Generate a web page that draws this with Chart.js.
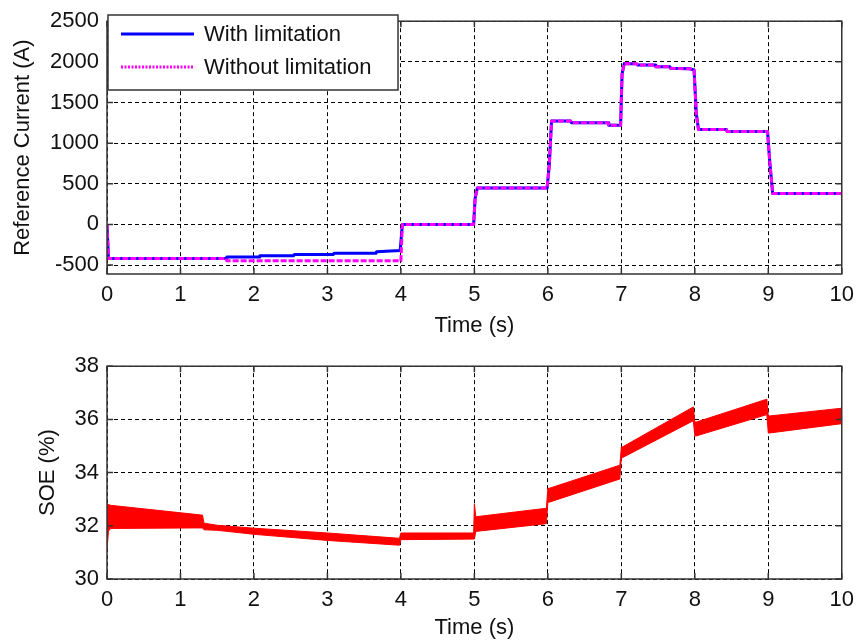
<!DOCTYPE html>
<html>
<head>
<meta charset="utf-8">
<script src="https://cdn.jsdelivr.net/npm/chart.js@4/dist/chart.umd.min.js"></script>
<style>
  body { margin: 0; background: #fff; }
  #wrap { position: relative; width: 862px; height: 643px; }
  canvas { position: absolute; left: 0; }
</style>
</head>
<body>
<div id="wrap">
  <canvas id="topChart" width="862" height="345" style="top:0"></canvas>
  <canvas id="soeChart" width="862" height="298" style="top:345px"></canvas>
</div>
<script>
// axis ticks
const timeTicks = [0, 1, 2, 3, 4, 5, 6, 7, 8, 9, 10];
const currentTicks = [-500, 0, 500, 1000, 1500, 2000, 2500];
const soeTicks = [30, 32, 34, 36, 38];

// reference current, with limitation (A)
const timeWith = [0, 0.02, 1.62, 1.63, 2.07, 2.08, 2.54, 2.55, 3.08, 3.09, 3.66, 3.67, 3.99,
  4.0, 4.02, 4.99, 5.01, 5.04, 5.99, 6.02, 6.05, 6.31, 6.32, 6.82, 6.83, 6.99,
  7.01, 7.04, 7.21, 7.22, 7.46, 7.47, 7.66, 7.67, 7.93, 7.99, 8.02, 8.05, 8.43, 8.44,
  8.99, 9.02, 9.06, 10];
const currentWith = [0, -420, -420, -400, -400, -385, -385, -370, -370, -355, -355, -335, -320,
  -320, 0, 0, 320, 448, 448, 740, 1272, 1272, 1252, 1252, 1220, 1220,
  1850, 1980, 1975, 1960, 1960, 1940, 1940, 1920, 1915, 1900, 1365, 1168, 1168, 1144,
  1144, 770, 380, 380];

// reference current, without limitation (A)
const timeWithout = [0, 0.02, 1.62, 1.63, 3.99,
  4.0, 4.02, 4.99, 5.01, 5.04, 5.99, 6.02, 6.05, 6.31, 6.32, 6.82, 6.83, 6.99,
  7.01, 7.04, 7.21, 7.22, 7.46, 7.47, 7.66, 7.67, 7.93, 7.99, 8.02, 8.05, 8.43, 8.44,
  8.99, 9.02, 9.06, 10];
const currentWithout = [0, -420, -420, -448, -448,
  -448, 0, 0, 320, 448, 448, 740, 1272, 1272, 1252, 1252, 1220, 1220,
  1850, 1980, 1975, 1960, 1960, 1940, 1940, 1920, 1915, 1900, 1365, 1168, 1168, 1144,
  1144, 770, 380, 380];

// SOE envelope (%)
const soeTime = [0, 0.02, 0.05, 1.2, 1.3, 1.32, 1.5, 2, 3, 3.98, 4.0, 4.02, 4.99,
  5.0, 5.02, 5.98, 6.0, 6.02, 6.98, 7.0, 7.02, 7.98, 8.0, 8.02, 8.98, 9.0, 9.02, 10];
const soeUpper = [32.83, 32.8, 32.77, 32.43, 32.4, 32.1, 32.02, 31.91, 31.73, 31.53, 31.73, 31.73, 31.73,
  32.83, 32.34, 32.66, 33.41, 33.41, 34.28, 34.97, 34.97, 36.47, 35.9, 35.9, 36.76, 36.13, 36.13, 36.42];
const soeLower = [31.1, 31.8, 31.9, 31.92, 31.92, 31.85, 31.83, 31.68, 31.45, 31.27, 31.48, 31.48, 31.5,
  31.5, 31.79, 32.08, 32.89, 32.89, 33.76, 34.57, 34.57, 35.95, 35.38, 35.38, 36.18, 35.49, 35.49, 35.84];

const FONT = 'Liberation Sans, Arial, sans-serif';
const pts = (xs, ys) => xs.map((x, i) => ({ x: x, y: ys[i] }));

// box around plot area + inward tick marks (matlab style)
const boxPlugin = {
  id: 'box',
  afterDatasetsDraw(chart) {
    const { ctx, chartArea: a, scales } = chart;
    ctx.save();
    ctx.strokeStyle = '#333';
    ctx.lineWidth = 1.5;
    ctx.beginPath();
    scales.x.ticks.forEach(t => {
      const px = scales.x.getPixelForValue(t.value);
      ctx.moveTo(px, a.bottom); ctx.lineTo(px, a.bottom - 6);
      ctx.moveTo(px, a.top); ctx.lineTo(px, a.top + 6);
    });
    scales.y.ticks.forEach(t => {
      const py = scales.y.getPixelForValue(t.value);
      ctx.moveTo(a.left, py); ctx.lineTo(a.left + 6, py);
      ctx.moveTo(a.right, py); ctx.lineTo(a.right - 6, py);
    });
    ctx.stroke();
    ctx.strokeRect(a.left, a.top, a.right - a.left, a.bottom - a.top);
    ctx.restore();
  }
};

// boxed legend in the top-left corner
const boxLegend = {
  id: 'boxLegend',
  afterDraw(chart) {
    const { ctx } = chart;
    ctx.save();
    ctx.fillStyle = '#fff';
    ctx.fillRect(108, 15, 290, 75);
    ctx.strokeStyle = '#333';
    ctx.lineWidth = 1.5;
    ctx.strokeRect(108, 15, 290, 75);
    chart.data.datasets.forEach((ds, i) => {
      const y = 34 + i * 33;
      ctx.strokeStyle = ds.borderColor;
      ctx.lineWidth = ds.borderWidth;
      ctx.setLineDash(ds.borderDash ? [2, 1.5] : []);
      ctx.beginPath();
      ctx.moveTo(121, y); ctx.lineTo(194, y);
      ctx.stroke();
      ctx.setLineDash([]);
      ctx.fillStyle = '#111';
      ctx.font = '22px ' + FONT;
      ctx.textBaseline = 'middle';
      ctx.fillText(ds.label, 204, y + 1);
    });
    ctx.restore();
  }
};

function axes(yMin, yMax, yTicks, yTitle, yTitlePad, xHeight, xTitlePad) {
  const grid = { color: '#000', lineWidth: 1, drawTicks: false };
  const border = { display: false, dash: [4, 3] };
  return {
    x: {
      type: 'linear', min: 0, max: 10,
      afterBuildTicks: s => { s.ticks = timeTicks.map(v => ({ value: v })); },
      afterFit: s => { s.height = xHeight; },
      grid: grid, border: border,
      ticks: { color: '#111', font: { family: FONT, size: 22 }, padding: 8, maxRotation: 0,
               callback: v => String(v) },
      title: { display: true, text: 'Time (s)', color: '#111', font: { family: FONT, size: 22 },
               padding: { top: 0, bottom: xTitlePad } }
    },
    y: {
      min: yMin, max: yMax,
      afterBuildTicks: s => { s.ticks = yTicks.map(v => ({ value: v })); },
      afterFit: s => { s.width = 107; },
      grid: grid, border: border,
      ticks: { color: '#111', font: { family: FONT, size: 22 }, padding: 8,
               callback: v => String(v) },
      title: { display: true, text: yTitle, color: '#111', font: { family: FONT, size: 22 },
               padding: { top: yTitlePad, bottom: 0 } }
    }
  };
}

new Chart(document.getElementById('topChart'), {
  type: 'line',
  data: {
    datasets: [
      { label: 'With limitation', data: pts(timeWith, currentWith), order: 2,
        borderColor: '#0000ff', borderWidth: 3, borderJoinStyle: 'round',
        pointRadius: 0, tension: 0 },
      { label: 'Without limitation', data: pts(timeWithout, currentWithout), order: 1,
        borderColor: '#ff00ff', borderWidth: 3, borderDash: [6, 2], borderJoinStyle: 'round',
        pointRadius: 0, tension: 0 }
    ]
  },
  options: {
    responsive: false, animation: false,
    layout: { padding: { left: 0, right: 15, top: 15.5, bottom: 0 } },
    plugins: { legend: { display: false }, tooltip: { enabled: false } },
    scales: axes(-610, 2500, currentTicks, 'Reference Current (A)', 10, 71, 6)
  },
  plugins: [boxPlugin, boxLegend]
});

new Chart(document.getElementById('soeChart'), {
  type: 'line',
  data: {
    datasets: [
      { label: 'SOE upper', data: pts(soeTime, soeUpper),
        borderColor: '#ff0000', borderWidth: 1, pointRadius: 0, tension: 0, fill: false },
      { label: 'SOE lower', data: pts(soeTime, soeLower),
        borderColor: '#ff0000', backgroundColor: '#ff0000', borderWidth: 1, pointRadius: 0, tension: 0, fill: '-1' }
    ]
  },
  options: {
    responsive: false, animation: false,
    layout: { padding: { left: 0, right: 15, top: 6, bottom: 0 } },
    plugins: { legend: { display: false }, tooltip: { enabled: false } },
    scales: axes(30, 38, soeTicks, 'SOE (%)', 35, 64, 2)
  },
  plugins: [boxPlugin]
});
</script>
</body>
</html>
